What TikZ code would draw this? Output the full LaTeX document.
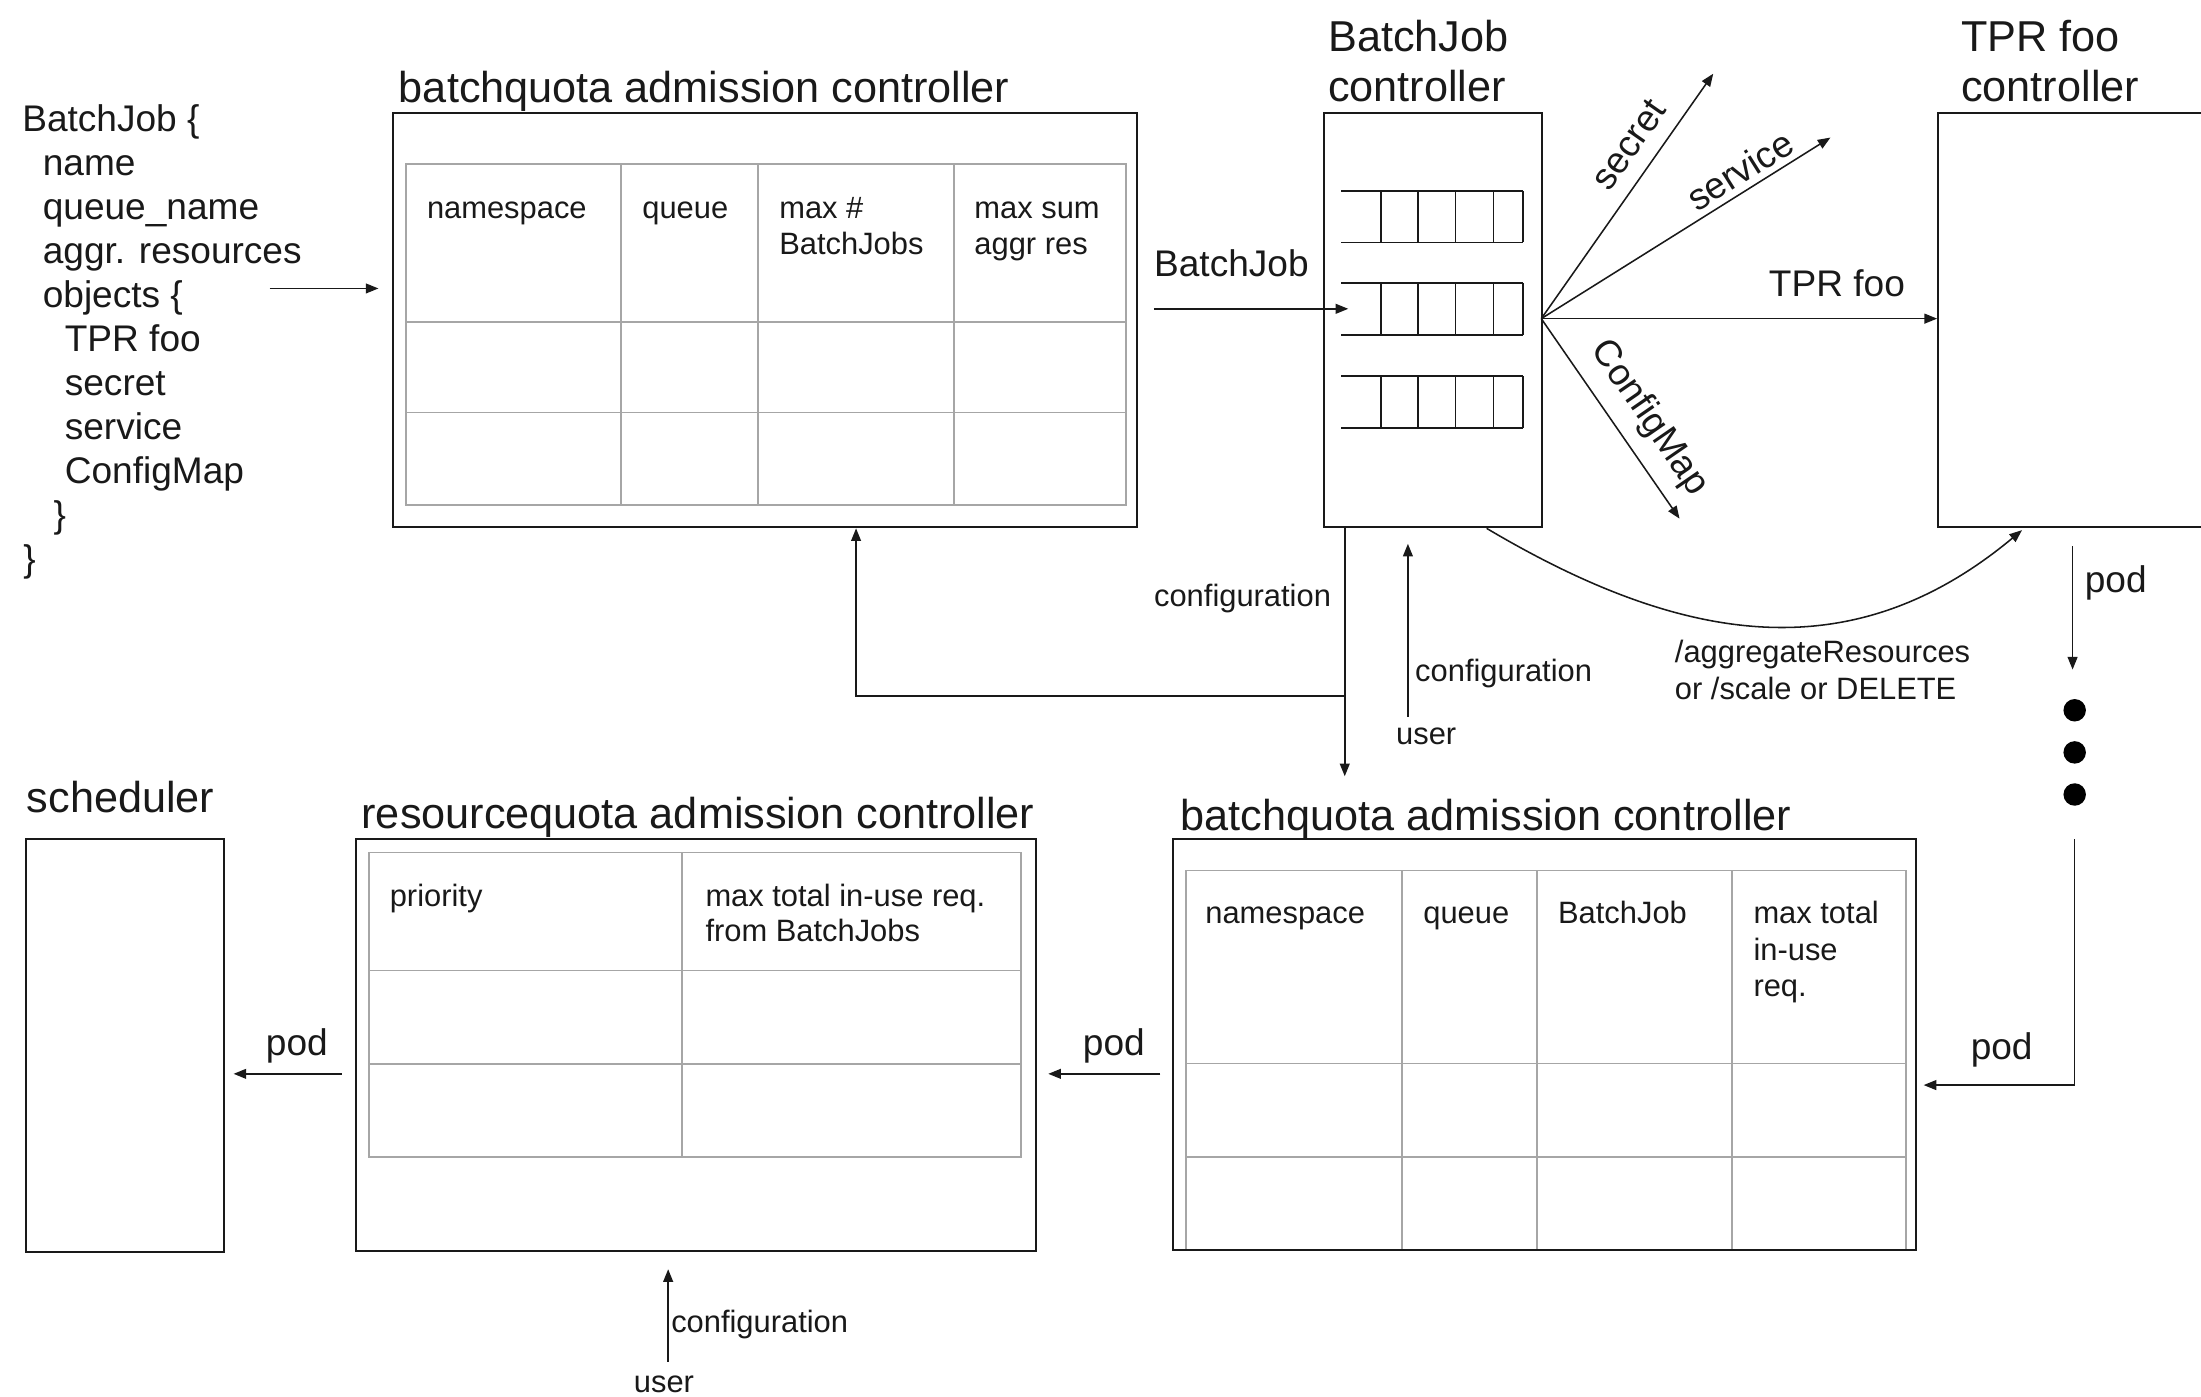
\documentclass[tikz,border=0pt]{standalone}
\usepackage{fontspec}
\setmainfont{Liberation Sans}
\usetikzlibrary{arrows.meta,calc}
\begin{document}
\begin{tikzpicture}[x=1pt,y=-1pt,
  boxst/.style={draw=black!90, line width=1.4pt, inner sep=0pt, anchor=north west},
  tabline/.style={draw=black!35, line width=1.2pt},
  qline/.style={draw=black!90, line width=1.2pt},
  arr/.style={draw=black!90, line width=1.1pt, -{Triangle[length=9pt,width=7pt]}},
  ttl/.style={font=\fontsize{30.8}{36}\selectfont, text=black!90, inner sep=0pt, anchor=mid west, yshift=-6.5pt},
  lbl/.style={font=\fontsize{26.4}{31}\selectfont, text=black!90, inner sep=0pt, anchor=mid west, yshift=-5.5pt},
  sml/.style={font=\fontsize{22}{26}\selectfont, text=black!90, inner sep=0pt, anchor=mid west, yshift=-4.5pt},
  lblc/.style={font=\fontsize{26.4}{31}\selectfont, text=black!90, inner sep=0pt, anchor=center, yshift=-2pt},
  smlc/.style={font=\fontsize{22}{26}\selectfont, text=black!90, inner sep=0pt, anchor=center, yshift=-2pt},
  rotlbl/.style={font=\fontsize{26.4}{31}\selectfont, text=black!90, inner sep=0pt, anchor=center},
  dotst/.style={circle, fill=black, inner sep=0pt, minimum size=16pt}
]
\useasboundingbox (0,0) rectangle (1568,995.2);

% ---------- left text ----------
\node[lbl] (l1) at (15.7,85.2) {BatchJob \{};
\node[lbl] (l2) at (30.3,116.6) {name};
\node[lbl] (l3) at (30.3,148) {queue\_name};
\node[lbl] (l4) at (30.3,179.4) {aggr. resources};
\node[lbl] (l5) at (30.3,210.8) {objects \{};
\node[lbl] (l6) at (46,242.2) {TPR foo};
\node[lbl] (l7) at (46,273.6) {secret};
\node[lbl] (l8) at (46,305) {service};
\node[lbl] (l9) at (46,336.4) {ConfigMap};
\node[lbl] (l10) at (38,367.8) {\}};
\node[lbl] (l11) at (16.5,399.2) {\}};

% ---------- top batchquota admission controller ----------
\draw[tabline] (289,116.8) rectangle (802.3,359.8);
\draw[tabline] (289,229.3) -- (802.3,229.3) (289,293.9) -- (802.3,293.9);
\draw[tabline] (442.2,116.8) -- (442.2,359.8) (540,116.8) -- (540,359.8) (679.5,116.8) -- (679.5,359.8);
\node[boxst, minimum width=529.4pt, minimum height=295pt] (bqA) at (279.6,80) {};
\node[ttl] (bqAt) at (284,64) {batchquota admission controller};
\node[sml] (bqAc1) at (304,148.3) {namespace};
\node[sml] (bqAc2) at (457.4,148.3) {queue};
\node[sml] (bqAc3) at (555,148.3) {max \#};
\node[sml] (bqAc3b) at (555,174.3) {BatchJobs};
\node[sml] (bqAc4) at (694,148.3) {max sum};
\node[sml] (bqAc4b) at (694,174.3) {aggr res};

% ---------- BatchJob controller ----------
\node[boxst, minimum width=155.5pt, minimum height=295pt] (ctrl) at (942.5,80) {};
\node[ttl] (ctrlt1) at (946,27.5) {BatchJob};
\node[ttl] (ctrlt2) at (946,63) {controller};
\foreach \qt/\qb in {136/172.7, 201.6/238.5, 268/305}{
  \draw[qline] (955.5,\qt) -- (1085,\qt) (955.5,\qb) -- (1085,\qb);
  \foreach \vx in {984,1010,1037,1064,1085}{
    \draw[qline] (\vx,\qt) -- (\vx,\qb);
  }
}
\coordinate (q2) at (955.5,220);

% ---------- TPR foo controller ----------
\node[boxst, minimum width=240pt, minimum height=295pt] (tpr) at (1380,80) {};
\node[ttl] (tprt1) at (1397,27.5) {TPR foo};
\node[ttl] (tprt2) at (1397,63) {controller};

% ---------- scheduler ----------
\node[boxst, minimum width=141.5pt, minimum height=294pt] (sched) at (17.5,597) {};
\node[ttl] (schedt) at (19,569.6) {scheduler};

% ---------- resourcequota admission controller ----------
\draw[tabline] (263,607.4) rectangle (727.4,824.3);
\draw[tabline] (263,691.3) -- (727.4,691.3) (263,758) -- (727.4,758);
\draw[tabline] (486,607.4) -- (486,824.3);
\node[boxst, minimum width=484.4pt, minimum height=293.8pt] (rq) at (253,597) {};
\node[ttl] (rqt) at (257.4,581) {resourcequota admission controller};
\node[sml] (rqc1) at (277.5,638.5) {priority};
\node[sml] (rqc2) at (502.4,638.5) {max total in-use req.};
\node[sml] (rqc2b) at (502.4,663.7) {from BatchJobs};

% ---------- bottom batchquota admission controller ----------
\draw[tabline] (844.7,620.2) rectangle (1357.9,890.2);
\draw[tabline] (844.7,757.6) -- (1357.9,757.6) (844.7,824.3) -- (1357.9,824.3);
\draw[tabline] (998.8,620.2) -- (998.8,890.2) (1094.8,620.2) -- (1094.8,890.2) (1233.9,620.2) -- (1233.9,890.2);
\node[boxst, minimum width=529.3pt, minimum height=293pt] (bqB) at (834.7,597.1) {};
\node[ttl] (bqBt) at (841,582.6) {batchquota admission controller};
\node[sml] (bqBc1) at (858.5,651) {namespace};
\node[sml] (bqBc2) at (1013.8,651) {queue};
\node[sml] (bqBc3) at (1109.8,651) {BatchJob};
\node[sml] (bqBc4) at (1249,651) {max total};
\node[sml] (bqBc4b) at (1249,677.4) {in-use};
\node[sml] (bqBc4c) at (1249,702.8) {req.};

% ---------- connectors ----------
\coordinate (objsrc) at (192,205.5);
\draw[arr, shorten >=10pt] (objsrc) -- (objsrc -| bqA.west);

\coordinate (bjsrc) at (822,220);
\draw[arr, shorten >=-5pt] (bjsrc) -- (q2);
\node[lbl] (bjlbl) at (822,189) {BatchJob};

\coordinate (fan) at (1098,227);
\coordinate (secEnd) at (1220.5,52.5);
\coordinate (svcEnd) at (1304,98);
\coordinate (cmEnd) at (1196.5,369.5);
\draw[arr] (fan) -- (secEnd);
\draw[arr] (fan) -- (svcEnd);
\draw[arr] (fan) -- (fan -| tpr.west);
\draw[arr] (fan) -- (cmEnd);
\node[rotlbl, rotate=55.1] (seclbl) at (1160.6,102.8) {secret};
\node[rotlbl, rotate=32.2] (svclbl) at (1239.5,121.3) {service};
\node[rotlbl, rotate=-55.4] (cmlbl) at (1175,298) {ConfigMap};
\node[lbl] (tprlbl) at (1260,203) {TPR foo};

% configuration down to bottom batchquota, branch to top batchquota
\coordinate (cfgTip) at (958,553);
\draw[arr] (ctrl.south -| cfgTip) -- (cfgTip);
\coordinate (brk) at (958,496);
\draw[arr] (brk) -| ($(bqA.south west)!0.6222!(bqA.south east)$);
\node[sml] (cfglbl1) at (822,425) {configuration};

% user configuration up to controller
\coordinate (usr1) at (1003,510.6);
\draw[arr, shorten >=11pt] (usr1) -- (usr1 |- ctrl.south);
\node[sml] (cfglbl2) at (1008,478.5) {configuration};
\node[smlc] (usrlbl1) at (1016,522.5) {user};

% curve to TPR foo controller
\draw[arr, shorten >=2pt] ($(ctrl.south west)!0.743!(ctrl.south east)$)
   .. controls (1200,460) and (1320,478) .. ($(tpr.south west)+(62,0)$);
\node[sml] (agglbl1) at (1193,465) {/aggregateResources};
\node[sml] (agglbl2) at (1193,491) {or /scale or DELETE};

% pod from TPR foo controller
\coordinate (podA) at (1476.5,389);
\coordinate (podAtip) at (1476.5,477);
\draw[arr] (podA) -- (podAtip);
\node[lbl] (podlbl1) at (1485,414) {pod};
\node[dotst] (dot1) at (1478,506) {};
\node[dotst] (dot2) at (1478,536) {};
\node[dotst] (dot3) at (1478,566) {};
\coordinate (podB) at (1478,598);
\coordinate (podBc) at (1478,773);
\draw[arr, shorten >=5pt] (podB) -- (podBc) -- (podBc -| bqB.east);
\node[lblc] (podlbl2) at (1426,746) {pod};

\coordinate (podrow) at (0,765);
\draw[arr, shorten <=8pt, shorten >=8pt] (podrow -| bqB.west) -- (podrow -| rq.east);
\node[lblc] (podlbl3) at (793.5,743) {pod};
\draw[arr, shorten <=9.5pt, shorten >=6pt] (podrow -| rq.west) -- (podrow -| sched.east);
\node[lblc] (podlbl4) at (211.5,743) {pod};

% user configuration to resourcequota
\coordinate (usr2) at (476,970);
\draw[arr, shorten >=12pt] (usr2) -- (usr2 |- rq.south);
\node[sml] (cfglbl3) at (478,942) {configuration};
\node[smlc] (usrlbl2) at (473,984.5) {user};
\end{tikzpicture}
\end{document}
